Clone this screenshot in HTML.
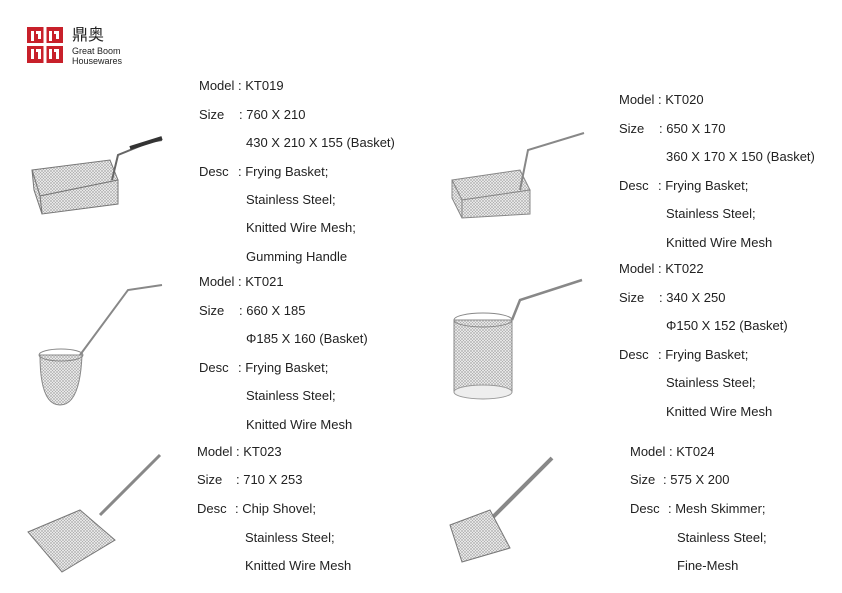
<!DOCTYPE html>
<html><head><meta charset="utf-8"><style>
body{margin:0;width:842px;height:593px;background:#fff;position:relative;overflow:hidden;font-family:"Liberation Sans",Arial,sans-serif;color:#222;}
.t{position:absolute;font-size:13px;line-height:16px;white-space:nowrap;}
svg{position:absolute;left:0;top:0;}
</style></head><body>
<svg width="842" height="593" viewBox="0 0 842 593">
<defs>
<pattern id="m" width="3" height="3" patternUnits="userSpaceOnUse"><rect width="3" height="3" fill="#f2f2f2"/><path d="M0 0L3 3M3 0L0 3" stroke="#aaa" stroke-width="0.6"/></pattern>
</defs>
<rect x="27" y="27" width="36" height="36" fill="#c8202a"/>
<g fill="#fff">
<rect x="31" y="31" width="3" height="10"/><rect x="36" y="31" width="5" height="3"/><rect x="38" y="34" width="3" height="5"/>
<rect x="49" y="31" width="3" height="10"/><rect x="54" y="31" width="5" height="3"/><rect x="56" y="34" width="3" height="5"/>
<rect x="27" y="43" width="36" height="3"/><rect x="43.5" y="27" width="3" height="36"/>
<rect x="31" y="49" width="3" height="10"/><rect x="36" y="49" width="5" height="3"/><rect x="38" y="52" width="3" height="7"/>
<rect x="49" y="49" width="3" height="10"/><rect x="54" y="49" width="5" height="3"/><rect x="56" y="52" width="3" height="7"/>
</g>
<g stroke="#777" stroke-width="1" fill="url(#m)">
<polygon points="32,170 110,160 118,180 40,196"/>
<polygon points="40,196 118,180 118,204 42,214"/>
<polygon points="32,170 40,196 42,214 34,190"/>
</g>
<path d="M112,180 L118,155 L150,142 L162,140" stroke="#666" stroke-width="2" fill="none"/>
<path d="M130,148 L162,138" stroke="#333" stroke-width="4" fill="none"/>
<g stroke="#888" stroke-width="1" fill="url(#m)">
<polygon points="452,180 520,170 530,190 462,200"/>
<polygon points="462,200 530,190 530,214 462,218"/>
<polygon points="452,180 462,200 462,218 452,198"/>
</g>
<path d="M520,190 L528,150 L584,133" stroke="#888" stroke-width="2" fill="none"/>
<path d="M80,355 L128,290 L162,285" stroke="#888" stroke-width="2" fill="none"/>
<path d="M40,355 Q40,405 60,405 Q80,405 82,355 Z" fill="url(#m)" stroke="#888"/>
<ellipse cx="61" cy="355" rx="22" ry="6" fill="none" stroke="#888"/>
<path d="M512,320 L520,300 L582,280" stroke="#888" stroke-width="2.5" fill="none"/>
<rect x="454" y="320" width="58" height="72" fill="url(#m)" stroke="#888"/>
<ellipse cx="483" cy="320" rx="29" ry="7" fill="none" stroke="#888"/>
<ellipse cx="483" cy="392" rx="29" ry="7" fill="#eee" stroke="#999"/>
<path d="M100,515 L160,455" stroke="#888" stroke-width="3" fill="none"/>
<polygon points="28,532 80,510 115,540 62,572" fill="url(#m)" stroke="#777"/>
<path d="M490,520 L552,458" stroke="#888" stroke-width="4" fill="none"/>
<polygon points="450,525 490,510 510,548 462,562" fill="url(#m)" stroke="#777"/>
</svg>
<div class="t" style="left:72px;top:25px;font-size:16px;font-family:'Noto Sans CJK SC',sans-serif;">鼎奥</div>
<div class="t" style="left:72px;top:46px;font-size:9px;line-height:10px;">Great Boom<br>Housewares</div>

<div class="t" style="left:199px;top:78px">Model : KT019</div>
<div class="t" style="left:199px;top:107px">Size</div><div class="t" style="left:239px;top:107px">: 760 X 210</div>
<div class="t" style="left:246px;top:135px">430 X 210 X 155 (Basket)</div>
<div class="t" style="left:199px;top:164px">Desc</div><div class="t" style="left:238px;top:164px">: Frying Basket;</div>
<div class="t" style="left:246px;top:192px">Stainless Steel;</div>
<div class="t" style="left:246px;top:220px">Knitted Wire Mesh;</div>
<div class="t" style="left:246px;top:249px">Gumming Handle</div>

<div class="t" style="left:619px;top:92px">Model : KT020</div>
<div class="t" style="left:619px;top:121px">Size</div><div class="t" style="left:659px;top:121px">: 650 X 170</div>
<div class="t" style="left:666px;top:149px">360 X 170 X 150 (Basket)</div>
<div class="t" style="left:619px;top:178px">Desc</div><div class="t" style="left:658px;top:178px">: Frying Basket;</div>
<div class="t" style="left:666px;top:206px">Stainless Steel;</div>
<div class="t" style="left:666px;top:235px">Knitted Wire Mesh</div>

<div class="t" style="left:199px;top:274px">Model : KT021</div>
<div class="t" style="left:199px;top:303px">Size</div><div class="t" style="left:239px;top:303px">: 660 X 185</div>
<div class="t" style="left:246px;top:331px">Φ185 X 160 (Basket)</div>
<div class="t" style="left:199px;top:360px">Desc</div><div class="t" style="left:238px;top:360px">: Frying Basket;</div>
<div class="t" style="left:246px;top:388px">Stainless Steel;</div>
<div class="t" style="left:246px;top:417px">Knitted Wire Mesh</div>

<div class="t" style="left:619px;top:261px">Model : KT022</div>
<div class="t" style="left:619px;top:290px">Size</div><div class="t" style="left:659px;top:290px">: 340 X 250</div>
<div class="t" style="left:666px;top:318px">Φ150 X 152 (Basket)</div>
<div class="t" style="left:619px;top:347px">Desc</div><div class="t" style="left:658px;top:347px">: Frying Basket;</div>
<div class="t" style="left:666px;top:375px">Stainless Steel;</div>
<div class="t" style="left:666px;top:404px">Knitted Wire Mesh</div>

<div class="t" style="left:197px;top:444px">Model : KT023</div>
<div class="t" style="left:197px;top:472px">Size</div><div class="t" style="left:236px;top:472px">: 710 X 253</div>
<div class="t" style="left:197px;top:501px">Desc</div><div class="t" style="left:235px;top:501px">: Chip Shovel;</div>
<div class="t" style="left:245px;top:530px">Stainless Steel;</div>
<div class="t" style="left:245px;top:558px">Knitted Wire Mesh</div>

<div class="t" style="left:630px;top:444px">Model : KT024</div>
<div class="t" style="left:630px;top:472px">Size</div><div class="t" style="left:663px;top:472px">: 575 X 200</div>
<div class="t" style="left:630px;top:501px">Desc</div><div class="t" style="left:668px;top:501px">: Mesh Skimmer;</div>
<div class="t" style="left:677px;top:530px">Stainless Steel;</div>
<div class="t" style="left:677px;top:558px">Fine-Mesh</div>
</body></html>
